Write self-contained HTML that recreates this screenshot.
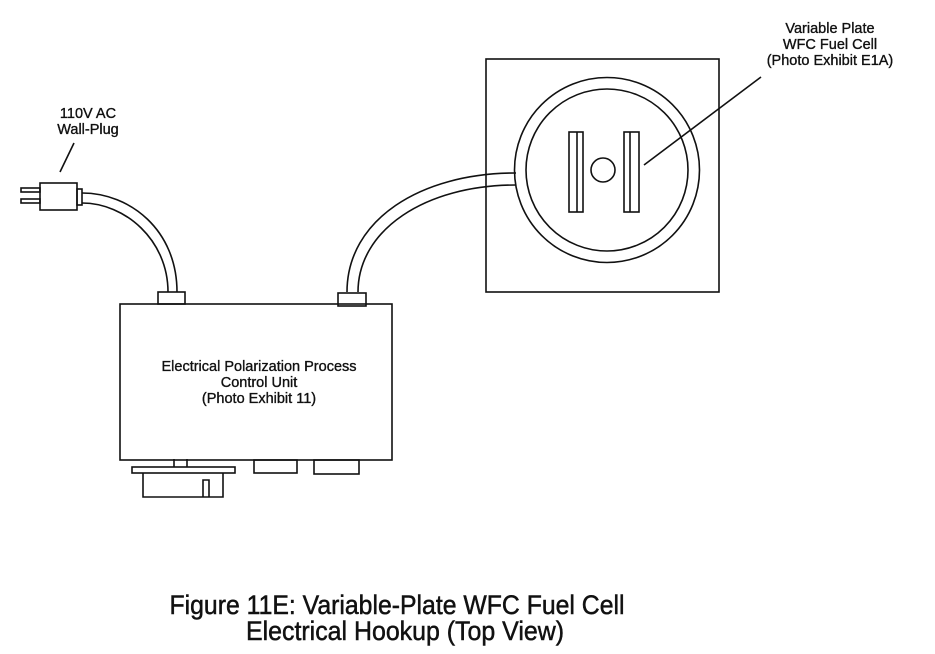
<!DOCTYPE html>
<html><head><style>body{margin:0;background:#fff}svg{display:block}</style></head>
<body>
<svg width="935" height="654" viewBox="0 0 935 654" xmlns="http://www.w3.org/2000/svg" font-family="Liberation Sans, sans-serif" fill="none" stroke="#111" stroke-width="1.6">
<!-- plug -->
<rect x="40" y="183" width="37" height="27"/>
<rect x="77" y="189" width="5" height="16"/>
<rect x="21" y="188" width="19" height="4"/>
<rect x="21" y="199" width="19" height="4"/>
<line x1="74" y1="143" x2="60" y2="172"/>
<!-- left cable -->
<path d="M82 193 C130 193 177 230 177 292"/>
<path d="M82 203 C125 203 168 240 168 292"/>
<!-- right cable -->
<path d="M347 292 C347 220 420 173 516 173"/>
<path d="M358 292 C358 230 425 185 516 185"/>
<!-- control box -->
<rect x="158" y="292" width="27" height="12"/>
<rect x="338" y="293" width="28" height="13"/>
<rect x="120" y="304" width="272" height="156"/>
<line x1="174" y1="459" x2="174" y2="467"/>
<line x1="187" y1="459" x2="187" y2="467"/>
<rect x="132" y="467" width="103" height="6"/>
<path d="M143 473 V497 H223 V473"/>
<path d="M203 497 V480 H209 V497"/>
<rect x="254" y="460" width="43" height="13"/>
<rect x="314" y="460" width="45" height="14"/>
<!-- fuel cell -->
<rect x="486" y="59" width="233" height="233"/>
<circle cx="607" cy="170" r="92.5"/>
<circle cx="607" cy="170" r="81"/>
<rect x="569" y="132" width="14" height="80"/>
<line x1="577" y1="132" x2="577" y2="212"/>
<rect x="624" y="132" width="15" height="80"/>
<line x1="630" y1="132" x2="630" y2="212"/>
<circle cx="603" cy="170" r="12"/>
<line x1="644" y1="165" x2="761" y2="77"/>
<!-- text -->
<g fill="#111" stroke="#111" stroke-width="0.35" text-anchor="middle" font-size="14.5">
<text x="88" y="118">110V AC</text>
<text x="88" y="134">Wall-Plug</text>
<text x="830" y="33">Variable Plate</text>
<text x="830" y="49">WFC Fuel Cell</text>
<text x="830" y="65">(Photo Exhibit E1A)</text>
<text x="259" y="371">Electrical Polarization Process</text>
<text x="259" y="387">Control Unit</text>
<text x="259" y="403">(Photo Exhibit 11)</text>
<text x="397" y="614" font-size="27" stroke-width="0.5" textLength="455" lengthAdjust="spacingAndGlyphs">Figure 11E: Variable-Plate WFC Fuel Cell</text>
<text x="405" y="640" font-size="27" stroke-width="0.5" textLength="318" lengthAdjust="spacingAndGlyphs">Electrical Hookup (Top View)</text>
</g>
</svg>
</body></html>
